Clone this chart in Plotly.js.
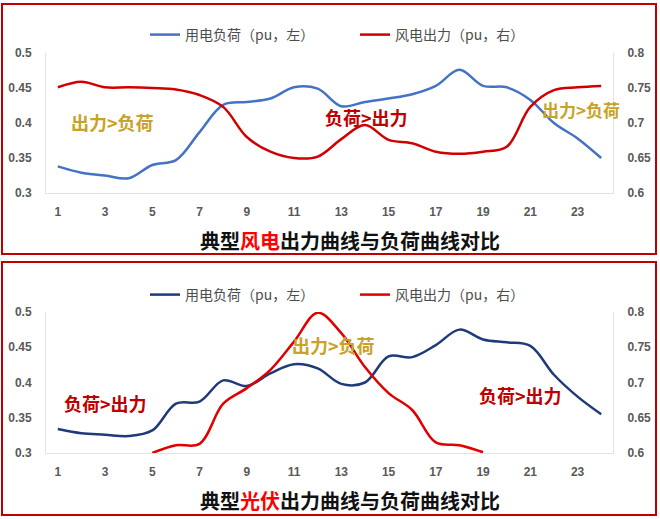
<!DOCTYPE html>
<html>
<head>
<meta charset="utf-8">
<script src="https://cdn.plot.ly/plotly-3.0.1.min.js"></script>
<style>html,body{margin:0;padding:0;background:#fff;}#chart{width:660px;height:519px;}</style>
</head>
<body>
<div id="chart"></div>
<script>
// ---- data ----
var hours = [1,2,3,4,5,6,7,8,9,10,11,12,13,14,15,16,17,18,19,20,21,22,23,24];
var xTicks = [1,3,5,7,9,11,13,15,17,19,21,23];

// Top panel: typical wind output vs load
var windLoad = [0.338,0.329,0.325,0.321,0.340,0.347,0.387,0.426,0.430,0.435,0.451,0.449,0.424,0.430,0.435,0.441,0.453,0.476,0.453,0.451,0.433,0.400,0.378,0.350];
var windOutput = [0.751,0.759,0.751,0.751,0.750,0.748,0.740,0.723,0.680,0.659,0.650,0.652,0.677,0.697,0.676,0.671,0.659,0.656,0.659,0.666,0.723,0.747,0.751,0.753];

// Bottom panel: typical PV output vs load
var pvLoad = [0.334,0.328,0.326,0.324,0.332,0.370,0.373,0.403,0.395,0.413,0.426,0.420,0.398,0.400,0.437,0.436,0.453,0.475,0.461,0.457,0.452,0.411,0.380,0.355];
var pvOutput = [null,null,null,null,0.600,0.611,0.613,0.670,0.692,0.718,0.758,0.799,0.770,0.722,0.685,0.661,0.615,0.611,0.601,null,null,null,null,null];

var legendLoad = '用电负荷（pu，左）';
var legendOutput = '风电出力（pu，右）';
var titleTop = '典型<span style="color:#FF0000">风电</span>出力曲线与负荷曲线对比';
var titleBottom = '典型<span style="color:#FF0000">光伏</span>出力曲线与负荷曲线对比';
var labelOutGtLoad = '出力>负荷';
var labelLoadGtOut = '负荷>出力';

// ---- helpers (pixel -> paper) ----
var W = 660, H = 519;
function px(x){ return x / W; }
function py(y){ return 1 - y / H; }

var gold = '#C9A227';
var darkRed = '#C00000';
var cjk = '"Noto Sans CJK SC", "Noto Sans", sans-serif';

var traces = [
  {x: hours, y: windLoad, name: legendLoad, type: 'scatter', mode: 'lines',
   line: {color: '#4472C4', width: 2.5, shape: 'spline', smoothing: 1},
   xaxis: 'x', yaxis: 'y', legend: 'legend'},
  {x: hours, y: windOutput, name: legendOutput, type: 'scatter', mode: 'lines',
   line: {color: '#D00000', width: 2.5, shape: 'spline', smoothing: 1},
   xaxis: 'x', yaxis: 'y2', legend: 'legend2'},
  {x: hours, y: pvLoad, name: legendLoad, type: 'scatter', mode: 'lines',
   line: {color: '#1F3A7A', width: 2.5, shape: 'spline', smoothing: 1},
   xaxis: 'x2', yaxis: 'y3', legend: 'legend3'},
  {x: hours, y: pvOutput, name: legendOutput, type: 'scatter', mode: 'lines',
   line: {color: '#E00000', width: 2.5, shape: 'spline', smoothing: 1},
   connectgaps: false,
   xaxis: 'x2', yaxis: 'y4', legend: 'legend4'}
];

var tickFont = {family: '"Liberation Sans", Arial, sans-serif', size: 12, color: '#595959', weight: 'bold'};
var axisLine = '#E3E3E3';

function xAx(anchor){
  return {domain: [px(46), px(613)], anchor: anchor, range: [0.5, 24.5],
    tickmode: 'array', tickvals: xTicks, ticktext: xTicks.map(String),
    showgrid: false, zeroline: false, showline: true, linecolor: axisLine, linewidth: 1,
    ticks: '', tickfont: tickFont, ticklabelstandoff: 8, fixedrange: true};
}
function yAx(dom, anchor, side, range, overlay){
  var a = {domain: dom, anchor: anchor, side: side, range: range, dtick: 0.05, tick0: 0,
    showgrid: false, zeroline: false, showline: true, linecolor: axisLine, linewidth: 1,
    ticks: '', tickfont: tickFont, ticklabelstandoff: 11, fixedrange: true};
  if (overlay) a.overlaying = overlay;
  return a;
}
var topDom = [py(193), py(53)];
var botDom = [py(453), py(312)];

function leg(x, y){
  return {x: px(x), y: py(y), xanchor: 'left', yanchor: 'middle', orientation: 'h',
    bgcolor: 'rgba(0,0,0,0)', borderwidth: 0,
    font: {family: cjk, size: 14, color: '#4d4d4d'}, itemwidth: 30};
}

function ann(text, x, y, color, size){
  return {text: text, x: px(x), y: py(y), xref: 'paper', yref: 'paper',
    xanchor: 'center', yanchor: 'middle', showarrow: false,
    font: {family: cjk, size: size, color: color, weight: 'bold'}};
}

var layout = {
  width: W, height: H,
  margin: {l: 0, r: 0, t: 0, b: 0},
  paper_bgcolor: '#ffffff', plot_bgcolor: 'rgba(0,0,0,0)',
  showlegend: true,
  xaxis: xAx('y'),
  xaxis2: xAx('y3'),
  yaxis: yAx(topDom, 'x', 'left', [0.3, 0.5]),
  yaxis2: yAx(topDom, 'x', 'right', [0.6, 0.8], 'y'),
  yaxis3: yAx(botDom, 'x2', 'left', [0.3, 0.5]),
  yaxis4: yAx(botDom, 'x2', 'right', [0.6, 0.8], 'y3'),
  legend: leg(145, 35),
  legend2: leg(355, 35),
  legend3: leg(145, 295),
  legend4: leg(355, 295),
  shapes: [
    {type: 'rect', xref: 'paper', yref: 'paper', x0: px(2), x1: px(656), y0: py(254), y1: py(4),
     line: {color: darkRed, width: 2}, fillcolor: 'rgba(0,0,0,0)'},
    {type: 'rect', xref: 'paper', yref: 'paper', x0: px(2), x1: px(656), y0: py(515), y1: py(262),
     line: {color: darkRed, width: 2}, fillcolor: 'rgba(0,0,0,0)'}
  ],
  annotations: [
    ann(titleTop, 350, 240, '#111111', 20),
    ann(titleBottom, 350, 500, '#111111', 20),
    ann(labelOutGtLoad, 112, 122, gold, 18),
    ann(labelLoadGtOut, 366, 117, darkRed, 18),
    ann(labelOutGtLoad, 581, 110, gold, 17),
    ann(labelLoadGtOut, 105, 403, darkRed, 18),
    ann(labelOutGtLoad, 333, 345, gold, 18),
    ann(labelLoadGtOut, 520, 395, darkRed, 18)
  ]
};

Plotly.newPlot('chart', traces, layout, {staticPlot: true, displayModeBar: false});
</script>
</body>
</html>
